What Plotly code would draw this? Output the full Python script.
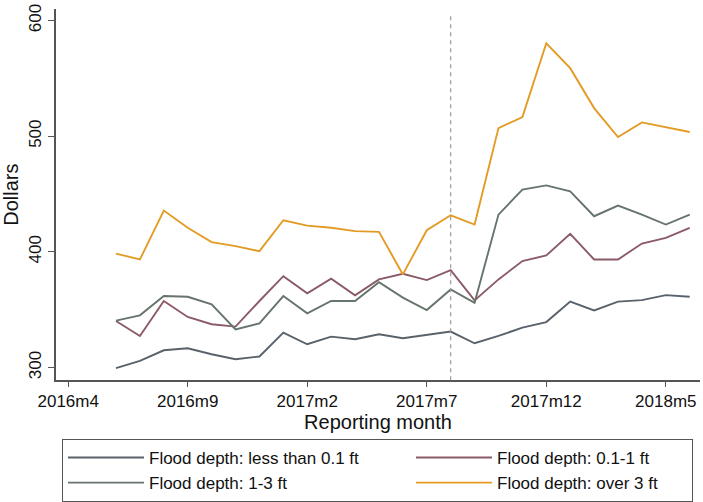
import plotly.graph_objects as go

# Reporting months (Stata-style labels) and average claim amounts per flood-depth group
months = ["2016m6", "2016m7", "2016m8", "2016m9", "2016m10", "2016m11", "2016m12",
          "2017m1", "2017m2", "2017m3", "2017m4", "2017m5", "2017m6", "2017m7",
          "2017m8", "2017m9", "2017m10", "2017m11", "2017m12", "2018m1", "2018m2",
          "2018m3", "2018m4", "2018m5", "2018m6"]

depth_lt_01 = [299.4, 305.7, 314.9, 316.6, 311.5, 307.2, 309.5, 330.2, 320.1, 326.7,
               324.4, 328.7, 325.3, 328.1, 331.1, 321.0, 327.3, 334.5, 339.3, 357.0,
               349.4, 357.0, 358.3, 362.6, 361.2]
depth_01_1 = [340.2, 327.3, 357.5, 343.7, 337.4, 335.4, 357.5, 379.0, 364.1, 376.8,
              362.4, 376.2, 381.1, 375.6, 384.2, 358.0, 376.2, 392.0, 396.9, 415.6,
              393.4, 393.4, 407.2, 412.1, 420.8]
depth_1_3 = [340.5, 345.1, 361.8, 361.2, 354.6, 333.0, 338.2, 361.8, 346.8, 357.5,
             357.5, 373.8, 360.4, 349.7, 367.5, 356.0, 432.2, 453.8, 457.5, 452.3,
             430.8, 440.0, 432.2, 423.6, 432.2]
depth_over3 = [398.5, 393.4, 435.7, 420.8, 408.4, 405.0, 400.6, 427.3, 422.7, 420.8,
               417.9, 417.3, 380.5, 418.7, 431.6, 423.6, 507.0, 516.5, 580.3, 558.8,
               524.3, 499.3, 511.9, 507.9, 503.6]

series_names = ["Flood depth: less than 0.1 ft", "Flood depth: 0.1-1 ft",
                "Flood depth: 1-3 ft", "Flood depth: over 3 ft"]
series_colors = ["#59626b", "#8a5b67", "#66746b", "#e39b25"]

tick_labels = ["2016m4", "2016m9", "2017m2", "2017m7", "2017m12", "2018m5"]
y_ticks = [300, 400, 500, 600]
event_month = "2017m8"

BASE_YEAR, BASE_MONTH = 2016, 4


def month_index(label):
    """Months elapsed since 2016m4 for a 'YYYYmM' label."""
    year, mon = label.split("m")
    return (int(year) - BASE_YEAR) * 12 + int(mon) - BASE_MONTH


x_vals = [month_index(m) for m in months]
tick_vals = [month_index(t) for t in tick_labels]

FONT = "Liberation Sans, Arial, Helvetica, sans-serif"
W, H = 703, 502

fig = go.Figure()
# legend entry widths: left column wider so the right column starts further over
legend_widths = [257, 190, 257, 190]
for name, ys, col, lw in zip(series_names,
                             [depth_lt_01, depth_01_1, depth_1_3, depth_over3],
                             series_colors, legend_widths):
    fig.add_trace(go.Scatter(x=x_vals, y=ys, mode="lines", name=name,
                             line=dict(color=col, width=1.9),
                             legendwidth=lw))

# dashed marker at the event month, spanning the plot region only
fig.add_shape(type="line", xref="x", yref="y domain",
              x0=month_index(event_month), x1=month_index(event_month), y0=0, y1=0.99,
              line=dict(color="#9a9a9a", width=1.2, dash="4px,4px"))

axis_col = "#555555"
fig.update_layout(
    width=W, height=H,
    margin=dict(l=0, r=0, t=0, b=0),
    paper_bgcolor="white", plot_bgcolor="white",
    font=dict(family=FONT, size=17, color="#111111"),
    xaxis=dict(domain=[56 / W, 700 / W], range=[-0.51, 26.43], automargin=False,
               tickvals=tick_vals, ticktext=tick_labels,
               ticks="outside", ticklen=5, tickcolor=axis_col, tickwidth=1.3,
               showline=True, linecolor=axis_col, linewidth=1.5,
               showgrid=False, zeroline=False,
               title=dict(text="Reporting month", standoff=0)),
    yaxis=dict(domain=[(H - 381) / H, (H - 9) / H], range=[289, 610], automargin=False,
               tickvals=y_ticks, tickangle=-90,
               ticks="outside", ticklen=6, tickcolor=axis_col, tickwidth=1.3,
               showline=True, linecolor=axis_col, linewidth=1.5,
               showgrid=False, zeroline=False,
               title=dict(text="Dollars", standoff=4)),
    legend=dict(orientation="h", x=62 / W, xanchor="left",
                y=(H - 440) / H, yanchor="top",
                bordercolor="#555555", borderwidth=1, bgcolor="white",
                itemwidth=76, font=dict(size=17, family=FONT),
                traceorder="normal"),
    showlegend=True,
)

fig.write_html("out.html")
